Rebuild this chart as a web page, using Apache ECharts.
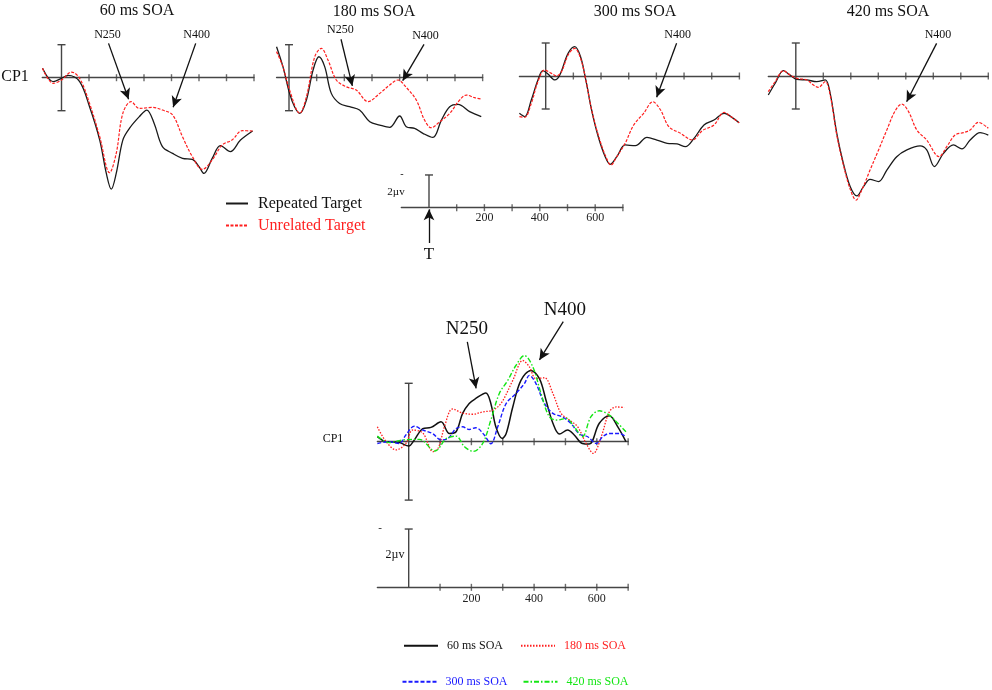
<!DOCTYPE html>
<html>
<head>
<meta charset="utf-8">
<script src="https://cdn.jsdelivr.net/npm/echarts@6/dist/echarts.min.js"></script>
<style>
html,body{margin:0;padding:0;background:#fff;}
#chart{width:992px;height:690px;}
</style>
</head>
<body>
<div id="chart"></div>
<script>
// ---------- data (time in ms, amplitude in µV; negative plotted up) ----------
const tickMs = [100, 200, 300, 400, 500, 600, 700];
const scaleLabels = [200, 400, 600];
const barRange = [-2, 2];

// 60 ms SOA
const soa60RepT = [-69,-30,0,24,66,102,139,163,181,199,223,247,283,310,337,367,404,440,476,500,518,548,578,614,651,695];
const soa60RepV = [-0.57,0.24,0.04,-0.14,0.24,1.76,3.78,5.8,6.75,5.8,3.78,3.07,2.36,1.96,2.77,4.18,4.59,4.89,4.95,5.39,5.8,4.89,4.12,4.48,3.78,3.23];
const soa60UnrT = [-69,-30,0,36,66,102,139,175,199,223,253,283,331,367,404,440,476,512,548,584,620,657,695];
const soa60UnrV = [-0.57,0.34,0.14,-0.34,0.04,1.56,3.58,5.76,4.59,2.16,1.45,1.86,1.8,1.96,2.26,3.58,4.79,5.56,4.99,4.08,3.78,3.21,3.23];

// 180 ms SOA
const soa180RepT = [-45,-22,2,20,39,63,87,108,129,153,183,219,255,292,328,364,400,424,454,484,520,551,581,611,653,695];
const soa180RepV = [-1.88,-0.67,0.95,1.76,2.16,1.35,-0.46,-1.27,-0.67,0.95,1.56,1.76,1.96,2.67,2.87,3.01,2.32,2.97,3.07,3.37,3.62,2.57,1.76,1.62,2.06,2.36];
const soa180UnrT = [-45,-22,2,39,63,93,117,141,171,207,243,286,328,364,394,424,460,490,514,545,581,617,641,671,695];
const soa180UnrV = [-1.58,-0.67,0.75,2.16,1.15,-1.27,-1.78,-1.07,0.14,0.55,0.75,1.45,0.95,0.44,0.14,0.59,1.35,2.57,3.03,2.67,2.16,1.35,1.05,1.21,1.29];

// 300 ms SOA
const soa300RepT = [-95,-76,-52,-28,-10,8,33,51,81,105,126,145,166,190,215,233,257,287,324,366,402,439,475,505,536,572,608,645,669,699];
const soa300RepV = [2.26,2.46,1.45,0.24,-0.32,-0.12,0.24,-0.06,-1.37,-1.78,-1.17,0.24,2.06,3.68,4.89,5.35,4.89,4.18,4.22,3.72,3.88,4.08,4.12,4.28,3.78,2.97,2.67,2.26,2.46,2.83];
const soa300UnrT = [-95,-76,-52,-28,-4,21,39,57,81,105,126,145,166,190,215,236,257,287,318,354,387,415,445,487,530,566,608,645,669,699];
const soa300UnrV = [2.46,2.5,1.66,0.34,-0.36,-0.16,0,-0.26,-1.27,-1.68,-1.07,0.24,2.06,3.58,4.79,5.39,4.89,4.08,2.97,2.26,1.56,2.06,3.07,3.47,3.88,3.31,2.97,2.2,2.46,2.83];

// 420 ms SOA
const soa420RepT = [-100,-75,-45,-21,4,40,76,107,125,149,173,198,222,246,270,301,331,367,404,452,476,504,537,573,604,634,670,700];
const soa420RepV = [1.15,0.44,-0.32,-0.06,0.2,0.24,0.34,0.24,1.05,3.47,5.29,6.71,7.27,6.71,6.26,6.4,5.7,4.89,4.48,4.24,4.48,5.49,4.69,4.18,4.42,3.88,3.43,3.58];
const soa420UnrT = [-100,-75,-45,-21,4,40,64,82,107,125,149,173,198,219,240,270,301,331,361,385,410,440,476,521,549,579,610,634,664,700];
const soa420UnrV = [0.95,0.34,-0.32,-0.06,0.14,0.24,0.55,0.69,0.34,1.15,3.58,5.39,6.87,7.52,6.91,5.7,4.48,3.27,2.12,1.7,2.16,3.27,3.88,4.89,4.28,3.58,3.43,3.27,2.81,3.17];

// difference waves (bottom)
const diff60T = [-100,-72,-30,0,18,45,71,103,130,151,172,193,214,246,262,278,298,311,332,358,390,417,438,460,481,507,528,554,576,608,640,667,693];
const diff60V = [-0.17,0,0.03,0.15,-0.06,-0.45,-0.49,-0.68,-0.28,-0.34,-0.97,-1.31,-1.48,-1.67,-1.31,-0.51,-0.11,-0.28,-1.19,-2.1,-2.44,-2.16,-1.42,-0.63,-0.26,-0.4,-0.23,0.06,0.08,-0.63,-0.89,-0.51,0];
const diff180T = [-100,-72,-40,-9,13,45,78,95,114,140,172,204,236,268,295,332,364,385,406,433,460,486,513,539,566,589,614,640,662,688];
const diff180V = [-0.51,0,0.28,0.06,-0.4,-0.3,0.34,0.2,-0.51,-1.12,-0.98,-0.94,-1.02,-1.08,-1.32,-2.1,-2.78,-2.56,-2.16,-2.19,-1.65,-0.97,-0.74,-0.51,0.06,0.4,-0.17,-1.02,-1.19,-1.17];
const diff300T = [-100,-62,-30,-9,18,45,76,103,124,151,172,193,214,241,262,284,311,342,369,385,406,433,460,490,517,545,571,598,619,640,672,693];
const diff300V = [0.06,0,0.06,-0.23,-0.53,-0.4,-0.28,-0.06,-0.1,-0.45,-0.51,-0.42,-0.48,-0.23,0.07,-0.51,-1.31,-1.65,-1.99,-2.27,-1.99,-1.31,-0.97,-0.85,-0.63,-0.26,-0.17,0.06,-0.17,-0.28,-0.28,-0.17];
const diff420T = [-100,-62,-19,34,84,119,151,178,206,236,262,289,316,342,369,396,422,449,475,502,528,554,581,608,640,667,693];
const diff420V = [-0.19,0.03,-0.06,-0.08,0.32,-0.1,-0.19,0.17,0.33,0.06,-0.74,-1.65,-2.1,-2.61,-2.95,-2.56,-1.65,-0.85,-0.74,-0.8,-0.51,-0.17,-0.85,-1.06,-0.91,-0.63,-0.34];

// ---------- rendering ----------
const FONT = '"Liberation Serif", "Times New Roman", serif';
const AXIS = '#454545';
const RED = '#ff1f1f';
const BLUE = '#1a1aff';
const GREEN = '#14e614';

function pts(t, v) { return t.map((x, i) => [x, v[i]]); }

// 0-3: top panels, 4: middle scale axis, 5: difference waves, 6: bottom scale axis, 7: middle scale bar + T arrow
const grids = [
  {left: 42.25, top: 19.95, width: 211.75, height: 189.75},
  {left: 276.55, top: 19.95, width: 206.1, height: 189.75},
  {left: 519.4, top: 18.25, width: 220, height: 189.75},
  {left: 768.3, top: 18.25, width: 220, height: 189.75},
  {left: 401.3, top: 171.7, width: 221.6, height: 35.97},
  {left: 377.35, top: 295.7, width: 250.8, height: 219},
  {left: 377.35, top: 523.2, width: 250.8, height: 64.13},
  {left: 401.3, top: 171.7, width: 221.6, height: 88.3}
].map(g => Object.assign({outerBoundsMode: 'none', containLabel: false}, g));

const xRanges = [[-70,700],[-45,700],[-95,700],[-100,700],[-100,700],[-100,700],[-100,700],[-100,700]];
const yRanges = [[-3.5,8],[-3.5,8],[-3.5,8],[-3.5,8],[-2.2,0],[-5,2.5],[-2.2,0],[-2.2,3.2]];
const labelled = [false,false,false,false,true,false,true,false];
const lineShown = [true,true,true,true,true,true,true,false];
const labelMargin = [0,0,0,0,4,0,6,0];

const xAxes = xRanges.map((r, i) => ({
  gridIndex: i, type: 'value', min: r[0], max: r[1],
  interval: labelled[i] ? 100 : undefined,
  axisLine: {show: lineShown[i], onZero: true, lineStyle: {color: AXIS, width: 1.3}},
  axisTick: {show: false},
  splitLine: {show: false},
  axisLabel: labelled[i] ? {
    show: true, margin: labelMargin[i], color: '#222', fontFamily: FONT, fontSize: 12,
    formatter: v => scaleLabels.includes(v) ? String(v) : ''
  } : {show: false}
}));
const yAxes = yRanges.map((r, i) => ({
  gridIndex: i, type: 'value', inverse: true, min: r[0], max: r[1], show: false,
  axisLine: {onZero: true}
}));

function wave(name, gi, t, v, color, dash, width) {
  return {
    type: 'line', name, xAxisIndex: gi, yAxisIndex: gi, data: pts(t, v),
    smooth: 0.35, symbol: 'none', silent: true, animation: false, z: 3,
    lineStyle: {color, width, type: dash}, itemStyle: {color}
  };
}
function ticks(gi) {
  return {
    type: 'scatter', xAxisIndex: gi, yAxisIndex: gi, silent: true, animation: false, clip: false,
    data: tickMs.map(t => [t, 0]), symbol: 'rect', symbolSize: [1.4, 7],
    itemStyle: {color: AXIS}, z: 2
  };
}
function arrowData(list) {
  return list.map(a => [{coord: a.from, name: a.name}, {coord: a.to}]);
}
function bar(gi, data, caps, arrows, labelSize) {
  const s = {
    type: 'line', xAxisIndex: gi, yAxisIndex: gi, data, silent: true, animation: false, clip: false,
    symbol: (val) => caps.includes(val[1]) ? 'rect' : 'none',
    showSymbol: true, symbolSize: [8, 1.4],
    lineStyle: {color: AXIS, width: 1.4}, itemStyle: {color: AXIS}, z: 2
  };
  if (arrows && arrows.length) {
    s.markLine = {
      silent: true, animation: false, symbol: ['none', 'arrow'], symbolSize: [8, 11],
      lineStyle: {color: '#111', width: 1.3, type: 'solid'},
      label: {show: true, position: 'start', distance: 3, formatter: '{b}', color: '#111',
              fontFamily: FONT, fontSize: labelSize || 12},
      emphasis: {disabled: true},
      data: arrowData(arrows)
    };
  }
  return s;
}

const barFull = [[0, barRange[0]], [0, barRange[1]]];
const barUp = [[0, 0], [0, barRange[0]]];

const series = [
  // panel 60
  bar(0, barFull, barRange, [
    {name: 'N250', from: [171, -2.08], to: [244, 1.31]},
    {name: 'N400', from: [488, -2.08], to: [406, 1.79]}
  ]),
  ticks(0),
  wave('Repeated Target', 0, soa60RepT, soa60RepV, '#1a1a1a', 'solid', 1.3),
  wave('Unrelated Target', 0, soa60UnrT, soa60UnrV, RED, [3, 1.5], 1.2),
  // panel 180
  bar(1, barFull, barRange, [
    {name: 'N250', from: [188, -2.33], to: [229, 0.5]},
    {name: 'N400', from: [488, -2.02], to: [411, 0.18]}
  ]),
  ticks(1),
  wave('Repeated Target', 1, soa180RepT, soa180RepV, '#1a1a1a', 'solid', 1.3),
  wave('Unrelated Target', 1, soa180UnrT, soa180UnrV, RED, [3, 1.5], 1.2),
  // panel 300
  bar(2, barFull, barRange, [
    {name: 'N400', from: [473, -1.98], to: [401, 1.29]}
  ]),
  ticks(2),
  wave('Repeated Target', 2, soa300RepT, soa300RepV, '#1a1a1a', 'solid', 1.3),
  wave('Unrelated Target', 2, soa300UnrT, soa300UnrV, RED, [3, 1.5], 1.2),
  // panel 420
  bar(3, barFull, barRange, [
    {name: 'N400', from: [512, -1.98], to: [403, 1.56]}
  ]),
  ticks(3),
  wave('Repeated Target', 3, soa420RepT, soa420RepV, '#1a1a1a', 'solid', 1.3),
  wave('Unrelated Target', 3, soa420UnrT, soa420UnrV, RED, [3, 1.5], 1.2),
  // middle scale
  ticks(4),
  bar(7, barUp, [barRange[0]], [
    {name: 'T', from: [0, 2.16], to: [0, 0.1]}
  ], 17),
  // bottom difference waves
  bar(5, barFull, barRange, [
    {name: 'N250', from: [187, -3.42], to: [215, -1.83]},
    {name: 'N400', from: [493, -4.11], to: [417, -2.8]}
  ], 19),
  ticks(5),
  wave('60 ms SOA', 5, diff60T, diff60V, '#111', 'solid', 1.5),
  wave('180 ms SOA', 5, diff180T, diff180V, RED, [1.5, 1.5], 1.3),
  wave('300 ms SOA', 5, diff300T, diff300V, BLUE, [4, 2], 1.4),
  wave('420 ms SOA', 5, diff420T, diff420V, GREEN, [5, 2, 1.5, 2], 1.4),
  // bottom scale
  bar(6, barUp, [barRange[0]], []),
  ticks(6)
];

const legendText = {fontFamily: FONT, color: '#111'};
const hiddenSymbol = {opacity: 0, borderWidth: 0};
const legends = [
  {
    orient: 'vertical', left: 225, top: 195.5, padding: 0, itemWidth: 22, itemHeight: 14, itemGap: 6,
    selectedMode: false, itemStyle: hiddenSymbol,
    textStyle: Object.assign({fontSize: 16, padding: [0, 0, 0, 5]}, legendText),
    data: [{name: 'Repeated Target'}, {name: 'Unrelated Target', textStyle: {color: RED}}]
  },
  {
    orient: 'horizontal', left: 403, top: 639.7, padding: 0, itemWidth: 34, itemHeight: 12, itemGap: 17,
    selectedMode: false, itemStyle: hiddenSymbol,
    textStyle: Object.assign({fontSize: 12, padding: [0, 0, 0, 4]}, legendText),
    data: [{name: '60 ms SOA'}, {name: '180 ms SOA', textStyle: {color: RED}}]
  },
  {
    orient: 'horizontal', left: 401.5, top: 675.7, padding: 0, itemWidth: 34, itemHeight: 12, itemGap: 15,
    selectedMode: false, itemStyle: hiddenSymbol,
    textStyle: Object.assign({fontSize: 12, padding: [0, 0, 0, 4]}, legendText),
    data: [{name: '300 ms SOA', textStyle: {color: BLUE}}, {name: '420 ms SOA', textStyle: {color: GREEN}}]
  }
];

function txt(text, x, y, size, extra) {
  return {
    type: 'text', x, y, silent: true,
    style: Object.assign({text, font: size + 'px ' + FONT, fill: '#111', align: 'center', verticalAlign: 'middle'}, extra || {})
  };
}
const graphics = [
  txt('60 ms SOA', 137, 11, 16),
  txt('180 ms SOA', 374, 12, 16),
  txt('300 ms SOA', 635, 12, 16),
  txt('420 ms SOA', 888, 12, 16),
  txt('CP1', 15, 77, 16),
  txt('CP1', 333, 439, 12),
  txt('2µv', 396, 192, 11),
  txt('-', 402, 174, 10),
  txt('2µv', 395, 555, 12),
  txt('-', 380, 528, 11)
];

const chart = echarts.init(document.getElementById('chart'), null, {renderer: 'canvas'});
chart.setOption({
  backgroundColor: '#ffffff',
  animation: false,
  grid: grids,
  xAxis: xAxes,
  yAxis: yAxes,
  legend: legends,
  graphic: graphics,
  series
});
</script>
</body>
</html>
